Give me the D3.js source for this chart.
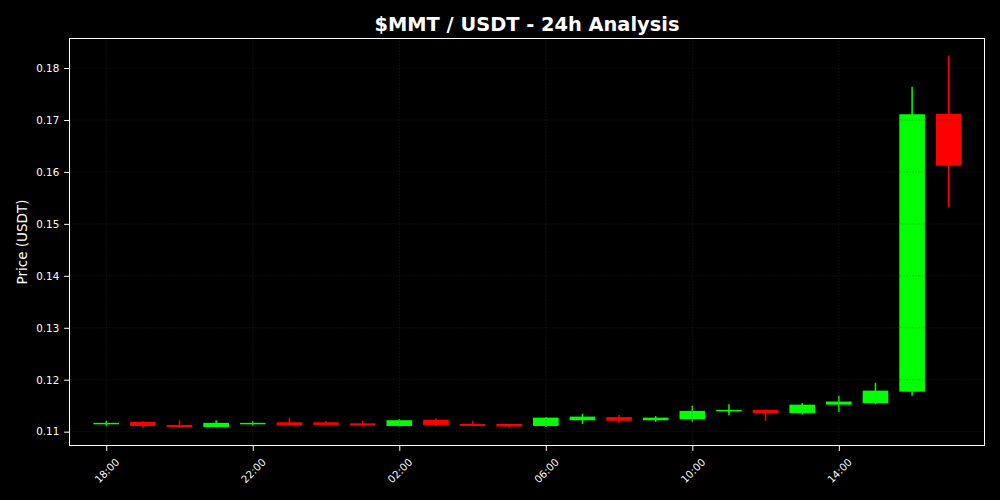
<!DOCTYPE html>
<html>
<head>
<meta charset="utf-8">
<script src="https://cdn.jsdelivr.net/npm/d3@7"></script>
<style>
	body { margin: 0; background: #000; }
	text { font-family: "DejaVu Sans", sans-serif; fill: #fff; }
</style>
</head>
<body>
<div id="chartDiv"></div>
<script>
;(function() {

	var times = ["18:00", "19:00", "20:00", "21:00", "22:00", "23:00", "00:00", "01:00",
		"02:00", "03:00", "04:00", "05:00", "06:00", "07:00", "08:00", "09:00",
		"10:00", "11:00", "12:00", "13:00", "14:00", "15:00", "16:00", "17:00"];
	var open  = [0.1116, 0.1119, 0.1113, 0.1109, 0.1116, 0.1118, 0.1118, 0.1116,
		0.1111, 0.1123, 0.1115, 0.1115, 0.1111, 0.1122, 0.1128, 0.1122,
		0.1124, 0.1141, 0.1142, 0.1136, 0.1152, 0.1155, 0.1177, 0.1712];
	var high  = [0.1121, 0.1120, 0.1122, 0.1122, 0.1120, 0.1126, 0.1121, 0.1121,
		0.1124, 0.1126, 0.1121, 0.1115, 0.1128, 0.1134, 0.1132, 0.1130,
		0.1150, 0.1153, 0.1143, 0.1155, 0.1169, 0.1194, 0.1764, 0.1824];
	var low   = [0.1111, 0.1108, 0.1108, 0.1108, 0.1113, 0.1112, 0.1113, 0.1110,
		0.1110, 0.1111, 0.1111, 0.1108, 0.1109, 0.1115, 0.1117, 0.1119,
		0.1119, 0.1132, 0.1121, 0.1133, 0.1138, 0.1153, 0.1169, 0.1532];
	var close = [0.1117, 0.1111, 0.1109, 0.1117, 0.1117, 0.1112, 0.1113, 0.1112,
		0.1122, 0.1113, 0.1111, 0.1110, 0.1127, 0.1129, 0.1121, 0.1127,
		0.1140, 0.1142, 0.1136, 0.1152, 0.1158, 0.1179, 0.1711, 0.1612];
	var yTicks = [0.11, 0.12, 0.13, 0.14, 0.15, 0.16, 0.17, 0.18];
	var xTickIdx = [0, 4, 8, 12, 16, 20];

	var width = 1000;
	var height = 500;
	var margin = { top: 38, right: 15, bottom: 54, left: 69 };
	var chartWidth = width - margin.left - margin.right;
	var chartHeight = height - margin.top - margin.bottom;
	var upColor = "#00ff00";
	var downColor = "#ff0000";

	var data = times.map(function(t, i) {
		return { i: i, t: t, o: open[i], h: high[i], l: low[i], c: close[i] };
	});

	var svg = d3.select("#chartDiv").append("svg")
		.attr("width", width)
		.attr("height", height)
		.style("background", "#000");

	var plot = svg.append("g")
		.attr("transform", "translate(" + margin.left + "," + margin.top + ")");

	var xScale = d3.scaleLinear()
		.domain([-1.017, 23.99])
		.range([0, chartWidth]);

	var yScale = d3.scaleLinear()
		.domain([0.10724, 0.18578])
		.range([chartHeight, 0]);

	var bodyW = xScale(0.7) - xScale(0);

	// candles
	var candles = plot.selectAll(".candle")
		.data(data)
		.enter().append("g")
			.attr("class", "candle");

	candles.append("line")
		.attr("x1", function(d) { return xScale(d.i); })
		.attr("x2", function(d) { return xScale(d.i); })
		.attr("y1", function(d) { return yScale(d.h); })
		.attr("y2", function(d) { return yScale(d.l); })
		.style("stroke", function(d) { return d.c >= d.o ? upColor : downColor; })
		.style("stroke-width", 1.5);

	candles.append("rect")
		.attr("x", function(d) { return xScale(d.i) - bodyW / 2; })
		.attr("width", bodyW)
		.attr("y", function(d) { return yScale(Math.max(d.o, d.c)); })
		.attr("height", function(d) { return Math.max(1.5, Math.abs(yScale(d.o) - yScale(d.c))); })
		.style("fill", function(d) { return d.c >= d.o ? upColor : downColor; });

	// grid on top
	var grid = plot.append("g").attr("class", "grid");
	grid.selectAll(".gy")
		.data(yTicks)
		.enter().append("line")
			.attr("x1", 0).attr("x2", chartWidth)
			.attr("y1", function(d) { return yScale(d); })
			.attr("y2", function(d) { return yScale(d); });
	grid.selectAll(".gx")
		.data(xTickIdx)
		.enter().append("line")
			.attr("y1", 0).attr("y2", chartHeight)
			.attr("x1", function(d) { return xScale(d); })
			.attr("x2", function(d) { return xScale(d); });
	grid.selectAll("line")
		.style("stroke", "#333")
		.style("stroke-opacity", 0.5)
		.style("stroke-width", 0.6)
		.style("stroke-dasharray", "2,1");

	// frame
	plot.append("rect")
		.attr("x", 0.5)
		.attr("y", 0.5)
		.attr("width", chartWidth - 1)
		.attr("height", chartHeight - 1)
		.style("fill", "none")
		.style("stroke", "#fff")
		.style("stroke-width", 1)
		.style("shape-rendering", "crispEdges");

	// y axis
	var yAxis = d3.axisLeft(yScale)
		.tickValues(yTicks)
		.tickFormat(d3.format(".2f"))
		.tickSize(4.9)
		.tickPadding(4.9);
	var yG = plot.append("g").call(yAxis);
	yG.select(".domain").remove();
	yG.selectAll("line").style("stroke", "#fff");
	yG.selectAll("text")
		.style("font-size", "10.3px")
		.style("fill", "#fff")
		.attr("font-family", null);

	// x axis
	var xAxis = d3.axisBottom(xScale)
		.tickValues(xTickIdx)
		.tickFormat(function(d) { return times[d]; })
		.tickSize(4.9)
		.tickSizeOuter(0);
	var xG = plot.append("g")
		.attr("transform", "translate(0," + chartHeight + ")")
		.call(xAxis);
	xG.select(".domain").remove();
	xG.selectAll("line").style("stroke", "#fff");
	xG.selectAll("text")
		.attr("y", null).attr("dy", null)
		.attr("text-anchor", "middle")
		.attr("dominant-baseline", "central")
		.attr("transform", "translate(0,24.5) rotate(-45)")
		.style("font-size", "10.3px")
		.style("fill", "#fff")
		.attr("font-family", null);

	// labels
	svg.append("text")
		.attr("text-anchor", "middle")
		.attr("transform", "translate(" + (margin.left + chartWidth / 2) + ",30.5)")
		.style("font-size", "19.4px")
		.style("font-weight", "bold")
		.text("$MMT / USDT - 24h Analysis");

	svg.append("text")
		.attr("text-anchor", "middle")
		.attr("dominant-baseline", "central")
		.attr("transform", "translate(22," + (margin.top + chartHeight / 2) + ") rotate(-90)")
		.style("font-size", "13.5px")
		.text("Price (USDT)");

})();
</script>
</body>
</html>
